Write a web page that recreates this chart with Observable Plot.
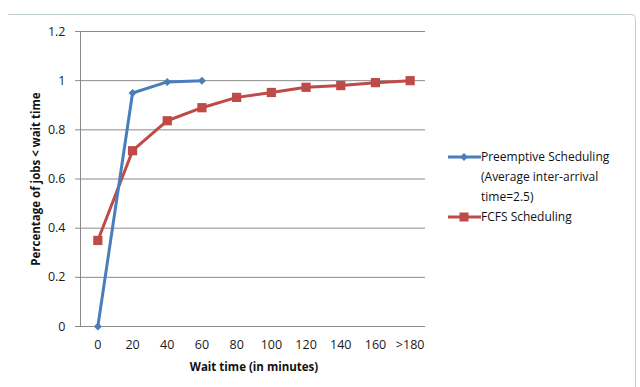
<!DOCTYPE html>
<html>
<head>
<meta charset="utf-8">
<script src="https://cdn.jsdelivr.net/npm/d3@7"></script>
<script src="https://cdn.jsdelivr.net/npm/@observablehq/plot@0.6"></script>
<style>
  html, body { margin: 0; padding: 0; background: #fff; }
  #wrap { position: relative; width: 640px; height: 387px; overflow: hidden; font-family: "Open Sans", sans-serif; }
  #edge { position: absolute; left: 8px; top: 14px; width: 627px; height: 380px;
          border-top: 1px solid #c3d0d6; border-right: 1px solid #c3d0d6; border-top-right-radius: 5px; }
  #legend { position: absolute; left: 448px; top: 147px; font-size: 12px; color: #111; line-height: 20px; }
  .item { position: relative; padding-left: 33px; }
  .item svg { position: absolute; left: 0; top: 0; }
  #chart svg { position: absolute; left: 0; top: 0; }
</style>
</head>
<body>
<div id="wrap">
  <div id="chart"></div>
  <div id="edge"></div>
  <div id="legend"></div>
</div>
<script>
// Wait-time buckets (minutes) on the x axis
const waitTimes = ["0", "20", "40", "60", "80", "100", "120", "140", "160", ">180"];
// Fraction of jobs finishing within each wait time
const preemptive = [0, 0.95, 0.995, 1.0];
const fcfs = [0.35, 0.715, 0.837, 0.89, 0.932, 0.952, 0.973, 0.98, 0.992, 1.0];
const yTicks = [0, 0.2, 0.4, 0.6, 0.8, 1, 1.2];

const seriesNames = ["Preemptive Scheduling (Average inter-arrival time=2.5)", "FCFS Scheduling"];
const colors = ["#4a7ebb", "#be4b48"];

const rows = [
  ...preemptive.map((v, i) => ({series: seriesNames[0], wait: waitTimes[i], value: v})),
  ...fcfs.map((v, i) => ({series: seriesNames[1], wait: waitTimes[i], value: v}))
];
const pre = rows.filter(d => d.series === seriesNames[0]);
const fc = rows.filter(d => d.series === seriesNames[1]);

const W = 640, H = 387, ML = 80, MR = 213, MT = 31, MB = 61;
const step = (W - ML - MR) / waitTimes.length;

const chart = Plot.plot({
  width: W,
  height: H,
  marginLeft: ML,
  marginRight: MR,
  marginTop: MT,
  marginBottom: MB,
  style: {fontFamily: "Open Sans, sans-serif", fontSize: "12.5px", color: "#1a1a1a", background: "transparent"},
  x: {type: "point", domain: waitTimes, padding: 0.5, round: false, label: null},
  y: {domain: [0, 1.2], label: null},
  marks: [
    Plot.ruleY(yTicks, {stroke: "#8a8a8a", strokeWidth: 1, insetLeft: -5, insetRight: 2}),
    Plot.ruleX([waitTimes[0]], {dx: -step / 2, stroke: "#8a8a8a", strokeWidth: 1}),
    Plot.axisY({ticks: yTicks, tickSize: 0, tickPadding: 15, tickFormat: d => String(d), label: null}),
    Plot.axisX({tickSize: 0, tickPadding: 14, label: null}),
    Plot.line(fc, {x: "wait", y: "value", stroke: colors[1], strokeWidth: 3}),
    Plot.dot(fc, {x: "wait", y: "value", symbol: "square", r: 5.2, fill: colors[1], stroke: null}),
    Plot.line(pre, {x: "wait", y: "value", stroke: colors[0], strokeWidth: 3}),
    Plot.dot(pre, {x: "wait", y: "value", symbol: "diamond2", r: 3.6, fill: colors[0], stroke: null}),
    Plot.text(["Wait time (in minutes)"], {frameAnchor: "bottom", lineAnchor: "middle", dy: 41, fontWeight: "bold", fontSize: 11.5, fill: "#111"}),
    Plot.text(["Percentage of jobs < wait time"], {frameAnchor: "left", textAnchor: "middle", lineAnchor: "middle", rotate: -90, dx: -44, fontWeight: "bold", fontSize: 11.5, fill: "#111"})
  ]
});
document.getElementById("chart").append(chart);

// Legend entries with line + marker swatches
const legend = d3.select("#legend");
const entries = [
  {lines: ["Preemptive Scheduling", "(Average inter-arrival", "time=2.5)"], color: colors[0], shape: "diamond"},
  {lines: ["FCFS Scheduling"], color: colors[1], shape: "square"}
];
entries.forEach(e => {
  const item = legend.append("div").attr("class", "item");
  const svg = item.append("svg").attr("width", 33).attr("height", 20);
  svg.append("line").attr("x1", 0).attr("x2", 33).attr("y1", 10).attr("y2", 10)
    .attr("stroke", e.color).attr("stroke-width", 3);
  if (e.shape === "square") {
    svg.append("rect").attr("x", 11.5).attr("y", 5.5).attr("width", 9).attr("height", 9).attr("fill", e.color);
  } else {
    svg.append("path").attr("d", "M16,6 L20,10 L16,14 L12,10 Z").attr("fill", e.color);
  }
  e.lines.forEach(t => item.append("div").text(t));
});
</script>
</body>
</html>
